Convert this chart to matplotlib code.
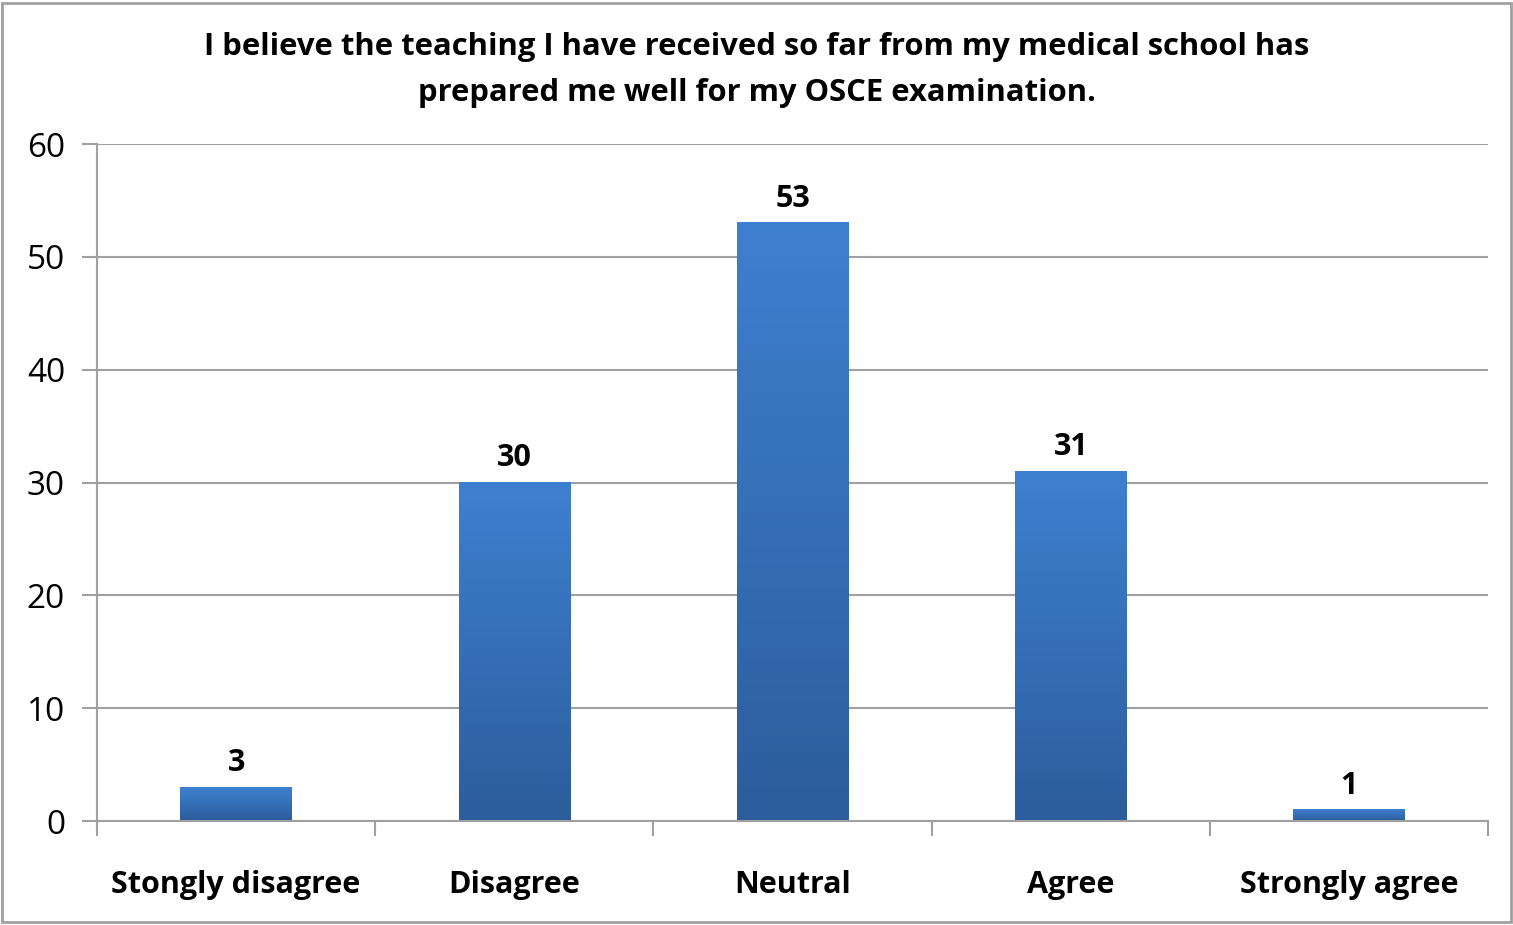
import matplotlib
matplotlib.use("Agg")
import matplotlib.pyplot as plt
import numpy as np
from matplotlib.patches import Rectangle
from matplotlib.colors import LinearSegmentedColormap

categories = ["Stongly disagree", "Disagree", "Neutral", "Agree", "Strongly agree"]
values = [3, 30, 53, 31, 1]
yticks = [0, 10, 20, 30, 40, 50, 60]
title = "I believe the teaching I have received so far from my medical school has\nprepared me well for my OSCE examination."

FONT = "Open Sans"
fig = plt.figure(figsize=(15.13, 9.25), dpi=100)
ax = fig.add_axes([0.0641, 0.1124, 0.9194, 0.7319])

cmap = LinearSegmentedColormap.from_list("g", ["#2c5d9c", "#3e80d0"])
grad = np.linspace(0, 1, 256).reshape(-1, 1)
x = np.arange(len(categories))
w = 0.4
bars = ax.bar(x, values, width=w, color="none", edgecolor="none")
for b, v in zip(bars, values):
    x0 = b.get_x()
    ax.imshow(grad, extent=[x0, x0 + w, 0, v], origin="lower", cmap=cmap,
              aspect="auto", zorder=2, interpolation="bilinear")
    ax.text(b.get_x() + w / 2, v + 0.8, str(v), ha="center", va="bottom",
            fontsize=22, fontweight="bold", family=FONT, zorder=3)

ax.set_xlim(-0.5, len(categories) - 0.5)
ax.set_ylim(0, 60)
ax.set_yticks(yticks)
ax.set_yticklabels([str(t) for t in yticks], fontsize=24, family=FONT)
ax.yaxis.grid(True, color="#a0a0a0", linewidth=1.5, zorder=0)
ax.set_axisbelow(True)
ax.tick_params(axis="y", length=11, width=1.5, color="#a0a0a0", pad=12)

ax.set_xticks(np.arange(-0.5, len(categories) + 0.5, 1.0), minor=False)
ax.set_xticklabels([])
ax.set_xticks(x, minor=True)
ax.set_xticklabels(categories, minor=True, fontsize=22, fontweight="bold", family=FONT)
ax.tick_params(axis="x", which="major", length=11, width=1.5, color="#a0a0a0", direction="out")
ax.tick_params(axis="x", which="minor", length=0, pad=35)

for s in ["top", "right"]:
    ax.spines[s].set_visible(False)
for s in ["left", "bottom"]:
    ax.spines[s].set_color("#a0a0a0")
    ax.spines[s].set_linewidth(1.5)

fig.text(0.5, 0.9245, title, ha="center", va="center", fontsize=22.3,
         fontweight="bold", family=FONT, linespacing=1.72)

fig.patches.append(Rectangle((0.0015, 0.003), 0.997, 0.994, transform=fig.transFigure,
                             fill=False, edgecolor="#a0a0a0", linewidth=2))

fig.savefig("out.png", dpi=100)
